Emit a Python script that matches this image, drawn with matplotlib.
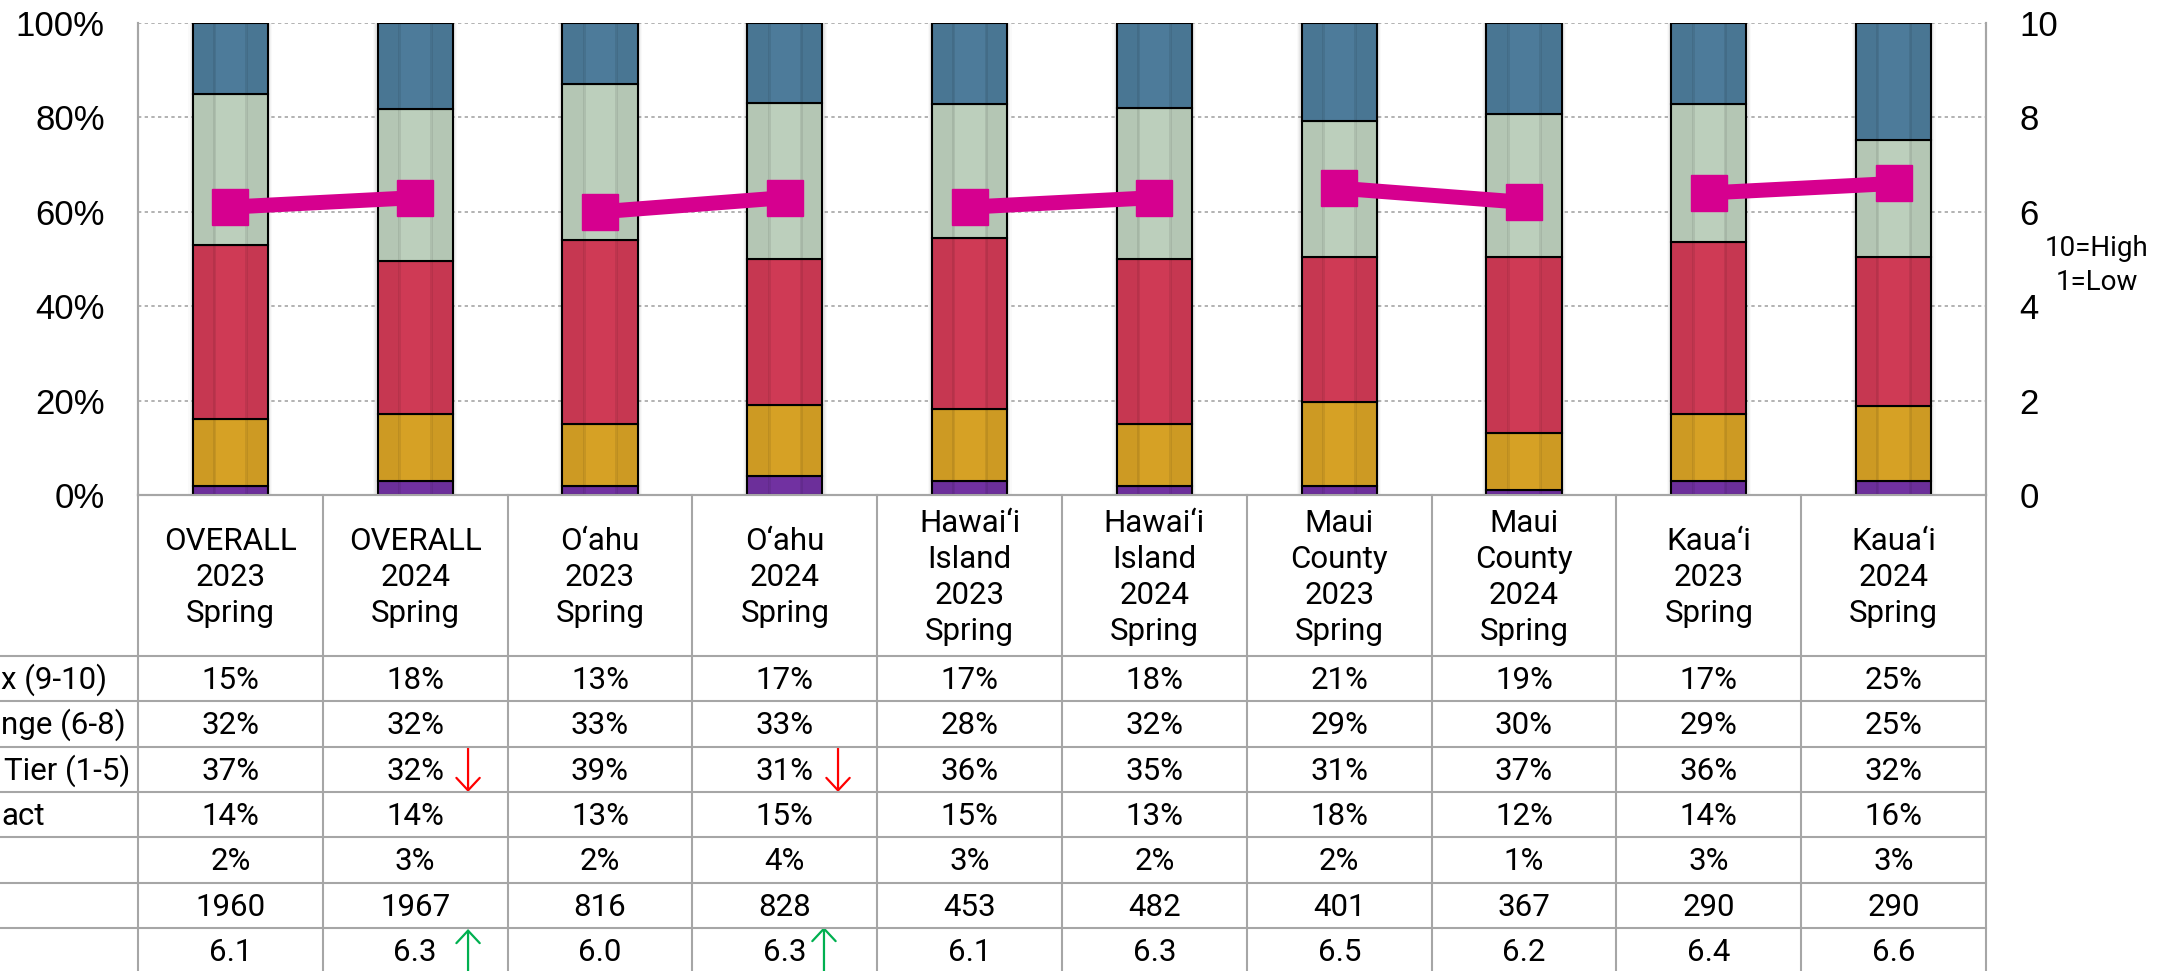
import numpy as np
import matplotlib
matplotlib.use("Agg")
import matplotlib.pyplot as plt
from matplotlib.transforms import Affine2D, blended_transform_factory
from matplotlib.lines import Line2D
from matplotlib.patches import Rectangle

# ---------------- data ----------------
regions = ["OVERALL", "OVERALL", "O\u2018ahu", "O\u2018ahu", "Hawai\u2018i\nIsland", "Hawai\u2018i\nIsland",
           "Maui\nCounty", "Maui\nCounty", "Kaua\u2018i", "Kaua\u2018i"]
years = ["2023", "2024"] * 5
season = ["Spring"] * 10

top_box = [15, 18, 13, 17, 17, 18, 21, 19, 17, 25]        # (9-10)
mid_range = [32, 32, 33, 33, 28, 32, 29, 30, 29, 25]      # (6-8)
bottom_tier = [37, 32, 39, 31, 36, 35, 31, 37, 36, 32]    # (1-5)
no_impact = [14, 14, 13, 15, 15, 13, 18, 12, 14, 16]
dont_know = [2, 3, 2, 4, 3, 2, 2, 1, 3, 3]
n_resp = [1960, 1967, 816, 828, 453, 482, 401, 367, 290, 290]
mean_score = [6.1, 6.3, 6.0, 6.3, 6.1, 6.3, 6.5, 6.2, 6.4, 6.6]

row_label_fragments = ["x (9-10)", "nge (6-8)", "Tier (1-5)", "act", "", "", ""]
down_arrows = [(2, 1), (2, 3)]   # (table row, column)
up_arrows = [(6, 1), (6, 3)]

# ---------------- figure ----------------
W, H = 2182, 971
fig = plt.figure(figsize=(W / 100, H / 100), dpi=100)
pix = Affine2D().scale(1 / W, -1 / H).translate(0, 1) + fig.transFigure

ax_l, ax_r, ax_t, ax_b = 138, 1986, 23, 495
ax = fig.add_axes([ax_l / W, (H - ax_b) / H, (ax_r - ax_l) / W, (ax_b - ax_t) / H])
ax2 = ax.twinx()

x = np.arange(len(regions))
layers = [dont_know, no_impact, bottom_tier, mid_range, top_box]
colors = ["#7131A1", "#D6A125", "#CF3A55", "#BCCFBC", "#4D7B9A"]
arr = np.array(layers, dtype=float)
arr = arr / arr.sum(axis=0) * 100.0

bw = 0.406
gray = "#A6A6A6"

# soft shadow behind bars
for k, a in enumerate([0.05, 0.04, 0.03, 0.02]):
    ax.bar(x, 100, width=bw + 0.012 * (k + 1), color="black", alpha=a, lw=0, zorder=2)

bottom = np.zeros(len(x))
for vals, c in zip(arr, colors):
    ax.bar(x, vals, bottom=bottom, width=bw, color=c, edgecolor="black", lw=1.5, zorder=3)
    bottom += vals

# subtle vertical bands on bars
for xi in x:
    left = xi - bw / 2
    for f0, f1, a in [(0.0, 0.29, 0.04), (0.27, 0.31, 0.08), (0.70, 0.74, 0.08), (0.72, 1.0, 0.04)]:
        ax.add_patch(Rectangle((left + f0 * bw, 0), (f1 - f0) * bw, 100, color="black",
                               alpha=a, lw=0, zorder=3.5))

ax.set_xlim(-0.5, 9.5)
ax.set_ylim(0, 100)
ax.set_yticks([0, 20, 40, 60, 80, 100])
ax.set_yticklabels([f"{v}%" for v in [0, 20, 40, 60, 80, 100]])
ax.set_xticks([])
ax.set_axisbelow(True)
ax.yaxis.grid(True, color=gray, ls=(0, (2, 2)), lw=1.2)
ax.tick_params(axis="y", length=0, pad=24, labelsize=25)
for lab in ax.get_yticklabels():
    lab.set_fontfamily("Liberation Sans")

ax2.set_ylim(0, 10)
ax2.set_yticks(range(0, 11, 2))
ax2.tick_params(axis="y", length=0, pad=24, labelsize=25)
for lab in ax2.get_yticklabels():
    lab.set_fontfamily("Liberation Sans")

for a_ in (ax, ax2):
    a_.spines["top"].set_visible(False)
    for s in ("left", "right", "bottom"):
        a_.spines[s].set_color(gray)
        a_.spines[s].set_linewidth(1.5)

magenta = "#D6008F"
for i in range(0, len(x), 2):
    ax2.plot(x[i:i + 2], mean_score[i:i + 2], color=magenta, lw=10.8, marker="s", ms=26.5,
             mec=magenta, solid_capstyle="butt", zorder=5)

fig.text(2097, 248, "10=High", transform=pix, ha="center", va="center", fontsize=20, family="Roboto")
fig.text(2097, 283, "1=Low", transform=pix, ha="center", va="center", fontsize=20, family="Roboto")

# ---------------- table ----------------
bt = blended_transform_factory(ax.transData, pix)
row_edges = [656, 701, 747, 792, 837, 883, 928, 975]
tfont = dict(family="Roboto", fontsize=22.5, color="black")

for b in np.arange(-0.5, 10, 1.0):
    fig.add_artist(Line2D([b, b], [ax_b, H + 5], transform=bt, color=gray, lw=1.5))
for y in row_edges[:-1]:
    fig.add_artist(Line2D([0, ax_r], [y, y], transform=pix, color=gray, lw=1.5))

for i in range(len(x)):
    lines = regions[i].split("\n") + [years[i], season[i]]
    bls = [532, 568, 604, 640] if len(lines) == 4 else [550, 586, 622]
    for ln, bl in zip(lines, bls):
        fig.text(i, bl, ln, transform=bt, ha="center", va="baseline", **tfont)

rows = [[f"{v}%" for v in top_box], [f"{v}%" for v in mid_range], [f"{v}%" for v in bottom_tier],
        [f"{v}%" for v in no_impact], [f"{v}%" for v in dont_know], [str(v) for v in n_resp],
        [f"{v:.1f}" for v in mean_score]]
for r, vals in enumerate(rows):
    bl = row_edges[r] + 33
    for i, v in enumerate(vals):
        fig.text(i, bl, v, transform=bt, ha="center", va="baseline", **tfont)

label_ends = [100, 118, 130, 40, 0, 0, 0]
for r, (lab, xe) in enumerate(zip(row_label_fragments, label_ends)):
    if lab:
        t = fig.text(xe, row_edges[r] + 33, lab, transform=pix, ha="right", va="baseline", **tfont)
        # keep the fragment fully on the canvas
        fig.canvas.draw()
        bb = t.get_window_extent()
        if bb.x0 < 1:
            t.set_horizontalalignment("left")
            t.set_x(1 / W * W)

arrow_off = {(2, 1): 0.286, (2, 3): 0.288, (6, 1): 0.286, (6, 3): 0.212}
for (r, c) in down_arrows:
    xa = c + arrow_off[(r, c)]
    ax.annotate("", xy=(xa, row_edges[r] + 45), xytext=(xa, row_edges[r] + 1),
                xycoords=bt, textcoords=bt, annotation_clip=False,
                arrowprops=dict(arrowstyle="->,head_length=0.45,head_width=0.42", color="#FF0000",
                                lw=1.6, mutation_scale=20, shrinkA=0, shrinkB=0))
tips = {(6, 1): 929, (6, 3): 927}
for (r, c) in up_arrows:
    xa = c + arrow_off[(r, c)]
    ax.annotate("", xy=(xa, tips[(r, c)]), xytext=(xa, H + 20),
                xycoords=bt, textcoords=bt, annotation_clip=False,
                arrowprops=dict(arrowstyle="->,head_length=0.45,head_width=0.42", color="#00B050",
                                lw=1.6, mutation_scale=20, shrinkA=0, shrinkB=0))

fig.savefig("out.png", dpi=100)
